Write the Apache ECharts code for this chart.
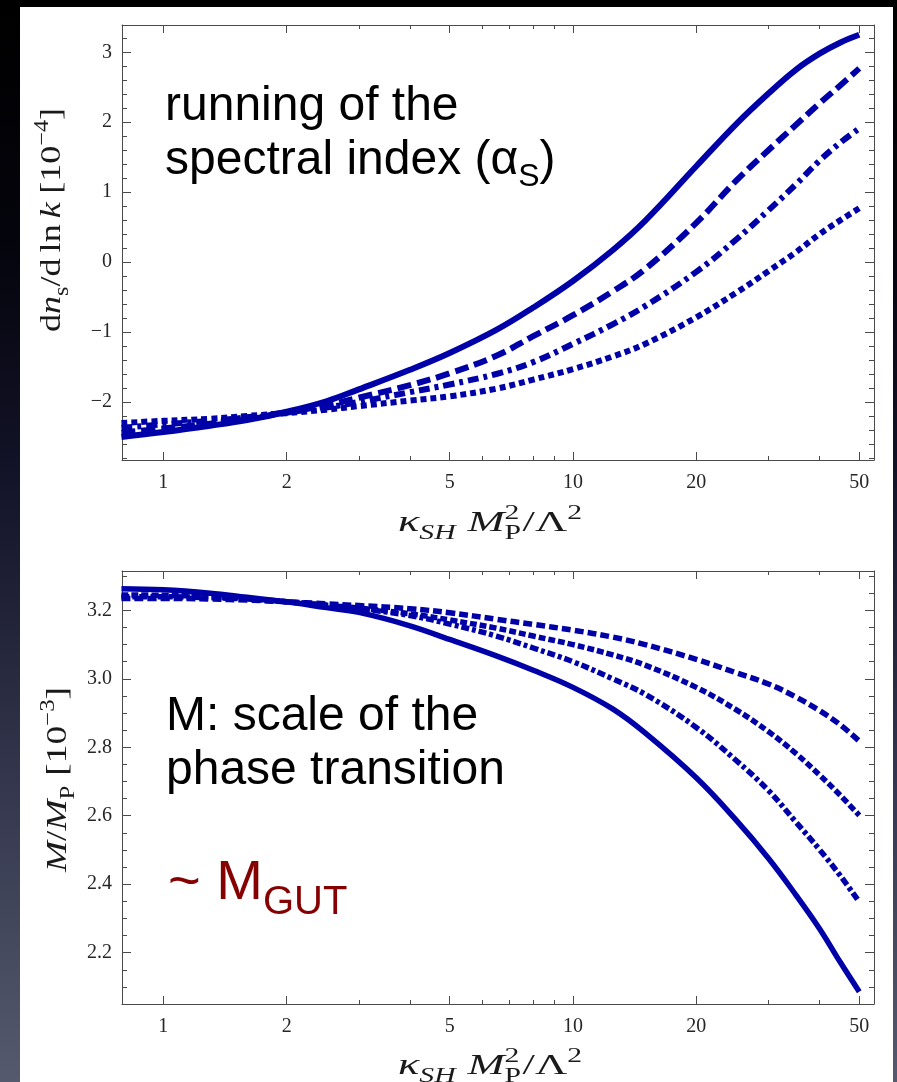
<!DOCTYPE html>
<html>
<head>
<meta charset="utf-8">
<script src="https://cdn.jsdelivr.net/npm/echarts@6/dist/echarts.min.js"></script>
<style>
  html, body { margin: 0; padding: 0; width: 897px; height: 1082px; overflow: hidden;
    background: linear-gradient(to bottom, #000 0%, #04040c 22%, #14142a 45%, #33364c 72%, #555a6e 100%); }
  #sheet { position: absolute; left: 20px; top: 7px; width: 873px; height: 1075px; background: #fff; }
  #chart { position: absolute; left: 0; top: 0; width: 897px; height: 1082px; }
</style>
</head>
<body>
<div id="sheet"></div>
<div id="chart"></div>
<script>
// kappa_SH * M_P^2 / Lambda^2 sample points (shared by all curves)
const kValues = [0.79, 1, 1.3, 1.6, 2, 2.5, 3, 4, 5, 6.5, 8, 10, 12.5, 15, 20, 25, 30, 35, 40, 45, 50];

// running of the spectral index, dn_s/dln k in units of 1e-4
const runSolid   = [-2.50, -2.43, -2.34, -2.26, -2.14, -1.99, -1.82, -1.54, -1.30, -0.97, -0.65, -0.27, 0.17, 0.59, 1.37, 1.97, 2.41, 2.75, 2.98, 3.14, 3.25];
const runDashed  = [-2.44, -2.38, -2.31, -2.24, -2.15, -2.05, -1.94, -1.76, -1.59, -1.34, -1.06, -0.76, -0.42, -0.10, 0.56, 1.16, 1.60, 1.96, 2.27, 2.53, 2.77];
const runDashDot = [-2.37, -2.32, -2.27, -2.22, -2.15, -2.08, -2.00, -1.86, -1.75, -1.60, -1.43, -1.17, -0.89, -0.63, -0.14, 0.32, 0.74, 1.11, 1.45, 1.71, 1.91];
const runDotted  = [-2.30, -2.27, -2.24, -2.20, -2.16, -2.11, -2.06, -1.98, -1.92, -1.81, -1.68, -1.53, -1.35, -1.17, -0.79, -0.44, -0.13, 0.14, 0.40, 0.60, 0.77];

// scale of the phase transition, M/M_P in units of 1e-3
const massSolid   = [3.263, 3.260, 3.250, 3.238, 3.225, 3.208, 3.194, 3.155, 3.115, 3.067, 3.025, 2.975, 2.912, 2.842, 2.711, 2.588, 2.476, 2.369, 2.270, 2.171, 2.086];
const massDashed  = [3.245, 3.244, 3.240, 3.235, 3.225, 3.215, 3.207, 3.190, 3.172, 3.148, 3.125, 3.100, 3.070, 3.040, 2.975, 2.910, 2.846, 2.782, 2.719, 2.659, 2.601];
const massDashDot = [3.240, 3.240, 3.237, 3.233, 3.225, 3.215, 3.205, 3.185, 3.160, 3.125, 3.090, 3.050, 3.000, 2.955, 2.858, 2.762, 2.674, 2.582, 2.501, 2.424, 2.348];
const massDotted  = [3.235, 3.235, 3.233, 3.230, 3.225, 3.219, 3.214, 3.205, 3.193, 3.174, 3.159, 3.142, 3.122, 3.100, 3.057, 3.018, 2.985, 2.947, 2.907, 2.865, 2.818];

// tick labels
const xTickLabels = [1, 2, 5, 10, 20, 50];
const xMinorTicks = [3, 4, 6, 7, 8, 9, 30, 40];
const runTickLabels = [-2, -1, 0, 1, 2, 3];
const massTickLabels = [2.2, 2.4, 2.6, 2.8, 3.0, 3.2];

const lg = Math.log10;
const BLUE = '#0000a8';
const FRAME = '#4a4a4a';
const LABEL = '#262626';
const SERIF = '"Liberation Serif", "DejaVu Serif", serif';
const SANS = '"Liberation Sans", Arial, Helvetica, sans-serif';

// horizontal extent in log10 units
const X_MIN = -0.101, X_MAX = 1.735;
const RUN_MIN = -2.83, RUN_MAX = 3.39;
const MASS_MIN = 2.05, MASS_MAX = 3.315;

// unlabelled minor ticks on the vertical axes
const runMinor = [];
for (let i = -14; i <= 17; i++) if (i % 5 !== 0) runMinor.push(i / 5);
const massMinor = [];
for (let i = 41; i <= 66; i++) if (i % 4 !== 0) massMinor.push(i / 20);

const frameLine = { onZero: false, lineStyle: { color: FRAME, width: 1 } };
const hiddenLine = { show: false, onZero: false };
const tick = (vals, len) => ({ inside: true, length: len, customValues: vals, lineStyle: { color: FRAME, width: 1 } });

function xAxesFor(grid) {
  const base = { gridIndex: grid, type: 'value', min: X_MIN, max: X_MAX, splitLine: { show: false } };
  const major = xTickLabels.map(lg), minor = xMinorTicks.map(lg);
  return [
    Object.assign({}, base, {
      position: 'bottom', axisLine: frameLine, axisTick: tick(major, 8),
      axisLabel: {
        customValues: major, margin: 13, fontFamily: SERIF, fontSize: 20, color: LABEL,
        formatter: v => String(xTickLabels.find(t => Math.abs(lg(t) - v) < 1e-6))
      }
    }),
    Object.assign({}, base, { position: 'bottom', axisLine: hiddenLine, axisTick: tick(minor, 4), axisLabel: { show: false } }),
    Object.assign({}, base, { position: 'top', axisLine: frameLine, axisTick: tick(major, 8), axisLabel: { show: false } }),
    Object.assign({}, base, { position: 'top', axisLine: hiddenLine, axisTick: tick(minor, 4), axisLabel: { show: false } })
  ];
}

function yAxesFor(grid, min, max, labels, minor, fmt) {
  const base = { gridIndex: grid, type: 'value', min: min, max: max, splitLine: { show: false } };
  return [
    Object.assign({}, base, {
      position: 'left', axisLine: frameLine, axisTick: tick(labels, 9),
      axisLabel: { customValues: labels, margin: 10, fontFamily: SERIF, fontSize: 20, color: LABEL, formatter: fmt }
    }),
    Object.assign({}, base, { position: 'left', axisLine: hiddenLine, axisTick: tick(minor, 5), axisLabel: { show: false } }),
    Object.assign({}, base, { position: 'right', axisLine: frameLine, axisTick: tick(labels, 9), axisLabel: { show: false } }),
    Object.assign({}, base, { position: 'right', axisLine: hiddenLine, axisTick: tick(minor, 5), axisLabel: { show: false } })
  ];
}

function curve(name, values, grid, dash, width) {
  return {
    type: 'line', name: name, xAxisIndex: grid * 4, yAxisIndex: grid * 4,
    data: kValues.map((k, i) => [lg(k), values[i]]),
    showSymbol: false, symbol: 'none', smooth: 0.4, silent: true,
    lineStyle: { color: BLUE, width: width, type: dash, cap: 'butt', join: 'round' }
  };
}

// text measuring for the mathematical axis titles
const meas = document.createElement('canvas').getContext('2d');
function textWidth(t, font) { meas.font = font; return meas.measureText(t).width; }

function mathRun(pieces, size, small, color, family) {
  const els = []; let x = 0;
  pieces.forEach(p => {
    const s = p.small ? small : size;
    const font = (p.it ? 'italic ' : '') + s + 'px ' + family;
    x += (p.pre || 0);
    const shift = p.small ? (p.up ? -0.40 * size : 0.24 * size) : 0;
    els.push({
      type: 'text', x: x, y: shift - 0.34 * s, silent: true,
      style: { text: p.t, font: font, fill: color, align: 'left', verticalAlign: 'middle' }
    });
    if (!p.stack) x += textWidth(p.t, font);
  });
  return { els: els, width: x };
}

function titleGroup(pieces, x, y, length, rotate) {
  const run = mathRun(pieces, 30, 20, '#1a1a1a', SERIF);
  return {
    type: 'group', x: x, y: y, rotation: rotate ? Math.PI / 2 : 0,
    scaleX: length / run.width, children: run.els, silent: true
  };
}

const xTitle = [
  { t: 'κ', it: true }, { t: 'SH', it: true, small: true },
  { t: 'M', it: true, pre: 8 }, { t: '2', small: true, up: true, stack: true }, { t: 'P', small: true },
  { t: '/', pre: 1 }, { t: 'Λ' }, { t: '2', small: true, up: true }
];
const runTitle = [
  { t: 'd' }, { t: 'n', it: true }, { t: 's', small: true }, { t: '/' }, { t: 'd' },
  { t: 'ln', pre: 5 }, { t: 'k', it: true, pre: 5 }, { t: '[10', pre: 7 }, { t: '−4', small: true, up: true }, { t: ']' }
];
const massTitle = [
  { t: 'M', it: true }, { t: '/' }, { t: 'M', it: true }, { t: 'P', small: true },
  { t: '[10', pre: 8 }, { t: '−3', small: true, up: true }, { t: ']' }
];

function slideText(text, x, baseline, size, color) {
  return {
    type: 'text', x: x, y: baseline - 0.34 * size, silent: true,
    style: { text: text, font: size + 'px ' + SANS, fill: color, align: 'left', verticalAlign: 'middle' }
  };
}

const idx = mathRun([{ t: 'spectral index (α' }, { t: 'S', small: true }, { t: ')' }], 48, 32, '#000', SANS);
const gut = mathRun([{ t: '~ M' }, { t: 'GUT', small: true }], 56, 40, '#850000', SANS);

const chart = echarts.init(document.getElementById('chart'), null, { renderer: 'canvas' });
chart.setOption({
  animation: false,
  backgroundColor: 'transparent',
  grid: [
    { left: 122, top: 25, width: 752, height: 435, outerBoundsMode: 'none' },
    { left: 122, top: 571, width: 752, height: 433, outerBoundsMode: 'none' }
  ],
  xAxis: xAxesFor(0).concat(xAxesFor(1)),
  yAxis: yAxesFor(0, RUN_MIN, RUN_MAX, runTickLabels, runMinor, v => (v < 0 ? '−' + Math.abs(v) : String(v)))
    .concat(yAxesFor(1, MASS_MIN, MASS_MAX, massTickLabels, massMinor, v => v.toFixed(1))),
  series: [
    curve('run-dotted', runDotted, 0, [6, 4], 6),
    curve('run-dashdot', runDashDot, 0, [11, 5, 4, 5], 6),
    curve('run-dashed', runDashed, 0, [14, 6], 6),
    curve('run-solid', runSolid, 0, 'solid', 6),
    curve('mass-dotted', massDotted, 1, [9, 4], 5.5),
    curve('mass-dashdot', massDashDot, 1, [8, 3, 4, 3], 5.5),
    curve('mass-dashed', massDashed, 1, [7, 3], 5.5),
    curve('mass-solid', massSolid, 1, 'solid', 5.5)
  ],
  graphic: [
    titleGroup(xTitle, 398, 533, 184, false),
    titleGroup(xTitle, 398, 1076, 184, false),
    titleGroup(runTitle, 62, 332, 224, true),
    titleGroup(massTitle, 68, 872, 185, true),
    slideText('running of the', 165, 123, 48, '#000'),
    { type: 'group', x: 165, y: 177, children: idx.els, silent: true },
    slideText('M: scale of the', 166, 733, 48, '#000'),
    slideText('phase transition', 166, 787, 48, '#000'),
    { type: 'group', x: 168, y: 903, children: gut.els, silent: true }
  ]
});
</script>
</body>
</html>
